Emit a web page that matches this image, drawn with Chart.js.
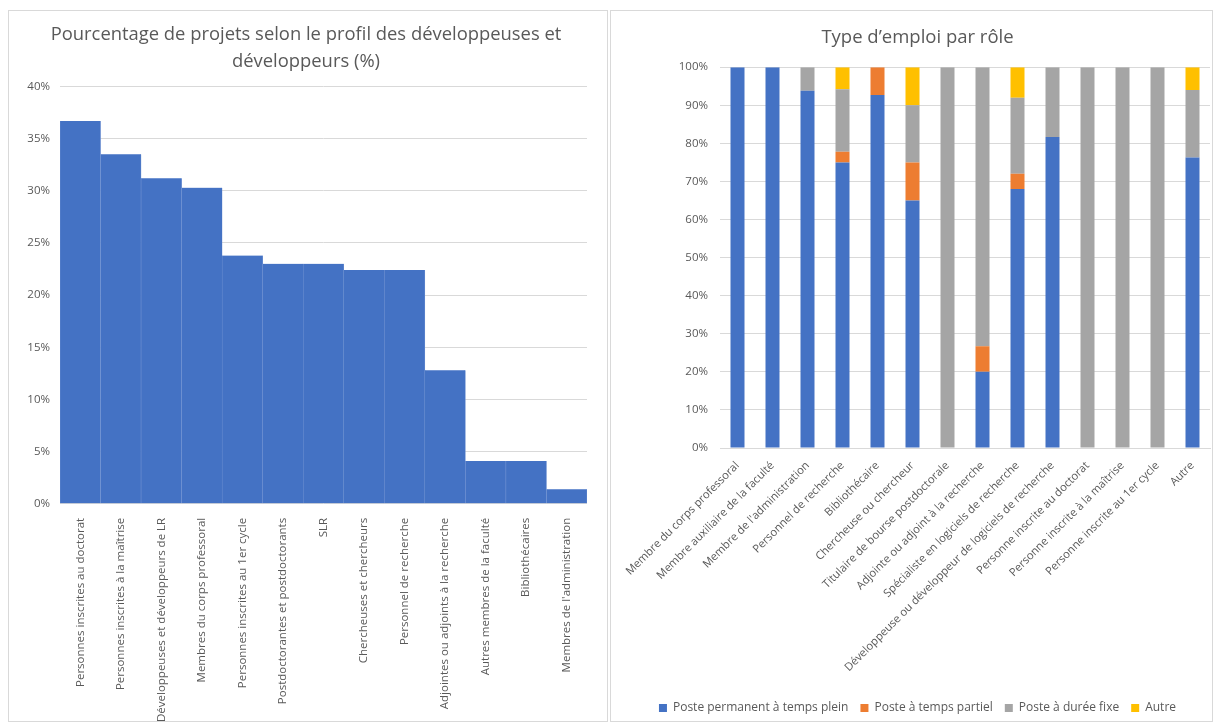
<!DOCTYPE html>
<html>
<head>
<meta charset="utf-8">
<script src="https://cdn.jsdelivr.net/npm/chart.js@4"></script>
<style>
  body { margin: 0; background: #fff; overflow: hidden; }
  .panel { position: absolute; border: 1px solid #d9d9d9; box-sizing: border-box; }
  canvas { position: absolute; }
</style>
</head>
<body>
<div class="panel" style="left:8px;top:10px;width:600px;height:712px"></div>
<div class="panel" style="left:610px;top:10px;width:603px;height:712px"></div>
<canvas id="profil" width="562" height="717" style="left:25px;top:11px"></canvas>
<canvas id="emploi" width="601" height="713" style="left:611px;top:11px"></canvas>
<script>
// graphique de gauche : profil des développeuses et développeurs
const profils = [
  'Personnes inscrites au doctorat',
  'Personnes inscrites à la maîtrise',
  'Développeuses et développeurs de LR',
  'Membres du corps professoral',
  'Personnes inscrites au 1er cycle',
  'Postdoctorantes et postdoctorants',
  'SLR',
  'Chercheuses et chercheurs',
  'Personnel de recherche',
  'Adjointes ou adjoints à la recherche',
  'Autres membres de la faculté',
  'Bibliothécaires',
  "Membres de l'administration"
];
const pctProjets = [36.7, 33.5, 31.2, 30.3, 23.8, 23.0, 23.0, 22.4, 22.4, 12.8, 4.1, 4.1, 1.4];

// graphique de droite : type d'emploi par rôle
const roles = [
  'Membre du corps professoral',
  'Membre auxiliaire de la faculté',
  "Membre de l'administration",
  'Personnel de recherche',
  'Bibliothécaire',
  'Chercheuse ou chercheur',
  'Titulaire de bourse postdoctorale',
  'Adjointe ou adjoint à la recherche',
  'Spécialiste en logiciels de recherche',
  'Développeuse ou développeur de logiciels de recherche',
  'Personne inscrite au doctorat',
  'Personne inscrite à la maîtrise',
  'Personne inscrite au 1er cycle',
  'Autre'
];
const permanent = [100, 100, 93.8, 75, 92.7, 65, 0, 20, 68, 81.7, 0, 0, 0, 76.3];
const partiel   = [0, 0, 0, 2.8, 7.3, 10, 0, 6.7, 4, 0, 0, 0, 0, 0];
const dureeFixe = [0, 0, 6.2, 16.4, 0, 15, 100, 73.3, 20, 18.3, 100, 100, 100, 17.7];
const autre     = [0, 0, 0, 5.8, 0, 10, 0, 0, 8, 0, 0, 0, 0, 6];

const gris = '#595959';
const grille = '#d9d9d9';
Chart.defaults.font.family = '"Open Sans", sans-serif';
Chart.defaults.color = gris;
Chart.defaults.animation = false;

new Chart(document.getElementById('profil'), {
  type: 'bar',
  data: {
    labels: profils,
    datasets: [{
      data: pctProjets,
      backgroundColor: '#4472c4',
      borderColor: '#7d9bd6',
      borderWidth: { left: 0.5, right: 0.5, top: 0, bottom: 0 },
      barPercentage: 1,
      categoryPercentage: 1
    }]
  },
  options: {
    responsive: false,
    layout: { padding: { left: 0, right: 0, bottom: 0 } },
    plugins: {
      legend: { display: false },
      tooltip: { enabled: false },
      title: {
        display: true,
        text: ['Pourcentage de projets selon le profil des développeuses et', 'développeurs (%)'],
        font: { size: 18.4, weight: 'normal', lineHeight: 1.48 },
        padding: { top: 10, bottom: 11 },
        color: gris
      }
    },
    scales: {
      x: {
        grid: { display: false },
        border: { display: false },
        ticks: { autoSkip: false, minRotation: 90, maxRotation: 90, font: { size: 11.5 }, color: gris, padding: 6 }
      },
      y: {
        min: 0, max: 40,
        afterFit: s => { s.width = 35; },
        border: { display: false },
        grid: { color: grille, drawTicks: false },
        ticks: { stepSize: 5, padding: 10, font: { size: 11.5 }, color: gris, callback: v => v + '%' }
      }
    }
  }
});

const series = [
  ['Poste permanent à temps plein', permanent, '#4472c4'],
  ['Poste à temps partiel', partiel, '#ed7d31'],
  ['Poste à durée fixe', dureeFixe, '#a5a5a5'],
  ['Autre', autre, '#ffc000']
];

new Chart(document.getElementById('emploi'), {
  type: 'bar',
  data: {
    labels: roles,
    datasets: series.map(([nom, vals, coul]) => ({
      label: nom,
      data: vals,
      backgroundColor: coul,
      barPercentage: 0.4,
      categoryPercentage: 1
    }))
  },
  options: {
    responsive: false,
    layout: { padding: { left: 14, right: 2, bottom: 0 } },
    plugins: {
      tooltip: { enabled: false },
      title: {
        display: true,
        text: 'Type d’emploi par rôle',
        font: { size: 18.5, weight: 'normal' },
        padding: { top: 16, bottom: 18 },
        color: gris
      },
      legend: {
        position: 'bottom',
        labels: { boxWidth: 8, boxHeight: 8, font: { size: 12 }, color: gris, padding: 12 }
      }
    },
    scales: {
      x: {
        stacked: true,
        afterFit: s => { s.height = 242; },
        grid: { display: false },
        border: { color: grille },
        ticks: { autoSkip: false, minRotation: 45, maxRotation: 45, font: { size: 11.2 }, color: gris }
      },
      y: {
        stacked: true,
        min: 0, max: 100,
        afterFit: s => { s.width = 95; },
        border: { display: false },
        grid: { color: grille, drawTicks: false },
        ticks: { stepSize: 10, padding: 12, font: { size: 11.5 }, color: gris, callback: v => v + '%' }
      }
    }
  }
});
</script>
</body>
</html>
